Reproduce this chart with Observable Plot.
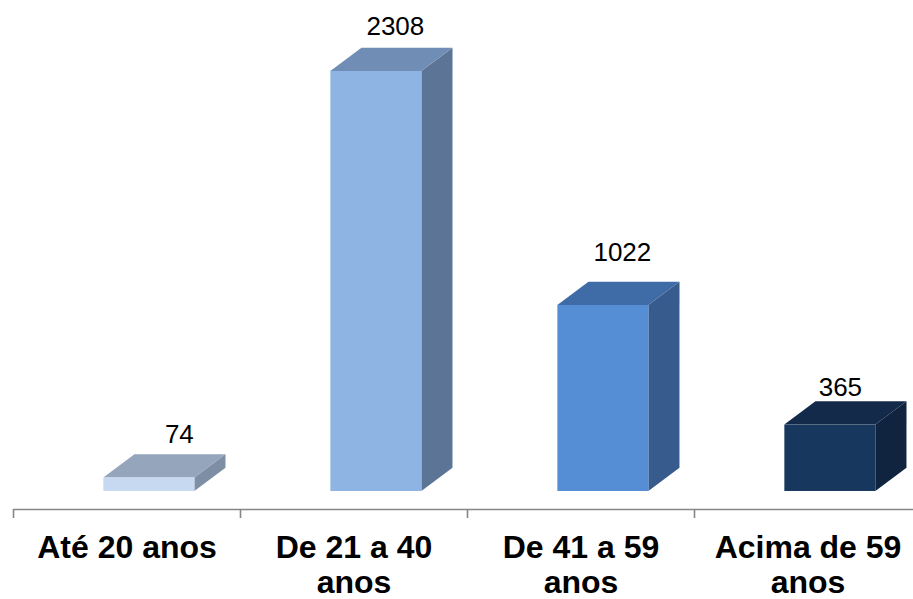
<!DOCTYPE html>
<html lang="pt">
<head>
<meta charset="utf-8">
<script src="https://cdn.jsdelivr.net/npm/d3@7"></script>
<script src="https://cdn.jsdelivr.net/npm/@observablehq/plot@0.6"></script>
<style>
  html, body { margin: 0; padding: 0; background: #fff; overflow: hidden; }
  svg { display: block; }
</style>
</head>
<body>
<script>
// Age groups and headcount per group
const categories = ["Até 20 anos", "De 21 a 40\nanos", "De 41 a 59\nanos", "Acima de 59\nanos"];
const counts = [74, 2308, 1022, 365];

// Face colours of each column
const frontColors = ["#C6D9F1", "#8EB4E3", "#558ED5", "#17375E"];
const topColors = ["#95A5BC", "#6F8DB5", "#3F6CA6", "#142A4A"];
const sideColors = ["#7E8FA5", "#5C7597", "#365B8C", "#10243F"];

// Column layout, in x-scale units (one unit per age group) and y-scale units
const barStart = 0.398;
const barWidth = 0.401;
const depthX = 0.137;
const depthY = 128;

// Fine placement of each value label relative to its column top
const labelOffsets = [[30, -43], [19, -45], [19, -53], [10, -37]];

const rows = counts.map((value, i) => ({
  i,
  value,
  x1: i + barStart,
  x2: i + barStart + barWidth
}));

// Each parallelogram is two ends of an area, keyed by column
const sideFace = rows.flatMap(d => [
  {i: d.i, x: d.x2, y1: 0, y2: d.value},
  {i: d.i, x: d.x2 + depthX, y1: depthY, y2: d.value + depthY}
]);
const topFace = rows.flatMap(d => [
  {i: d.i, y: d.value, x1: d.x1, x2: d.x2},
  {i: d.i, y: d.value + depthY, x1: d.x1 + depthX, x2: d.x2 + depthX}
]);

const axisGrey = "#868686";
const fontFamily = "'Liberation Sans', Arial, sans-serif";

const chart = Plot.plot({
  width: 913,
  height: 599,
  marginTop: 0,
  marginRight: 0,
  marginLeft: 0,
  marginBottom: 90,
  style: {background: "#fff", fontFamily},
  x: {domain: [0, 4], range: [13, 921]},
  y: {domain: [-99, 2698], axis: null},
  marks: [
    Plot.areaY(sideFace, {x: "x", y1: "y1", y2: "y2", z: "i", fill: d => sideColors[d.i]}),
    Plot.areaX(topFace, {y: "y", x1: "x1", x2: "x2", z: "i", fill: d => topColors[d.i]}),
    Plot.rectY(rows, {x1: "x1", x2: "x2", y1: 0, y2: "value", fill: d => frontColors[d.i]}),
    ...rows.map((d, n) => Plot.text([d], {
      x: r => (r.x1 + r.x2) / 2,
      y: "value",
      text: r => String(r.value),
      dx: labelOffsets[n][0],
      dy: labelOffsets[n][1],
      fontSize: 26,
      fill: "#000"
    })),
    Plot.ruleY([-99], {x1: 0, x2: 4, stroke: axisGrey, strokeWidth: 1.6}),
    Plot.axisX({
      ticks: [0, 1, 2, 3],
      tickSize: 9,
      tickFormat: () => "",
      stroke: axisGrey,
      strokeWidth: 1.6
    }),
    Plot.axisX({
      ticks: [0.5, 1.5, 2.5, 3.5],
      tickSize: 0,
      tickPadding: 23,
      tickFormat: t => categories[t - 0.5],
      fontSize: 32,
      fontWeight: "bold",
      lineHeight: 1.11,
      lineAnchor: "top",
      fill: "#000"
    })
  ]
});

document.body.append(chart);
</script>
</body>
</html>
